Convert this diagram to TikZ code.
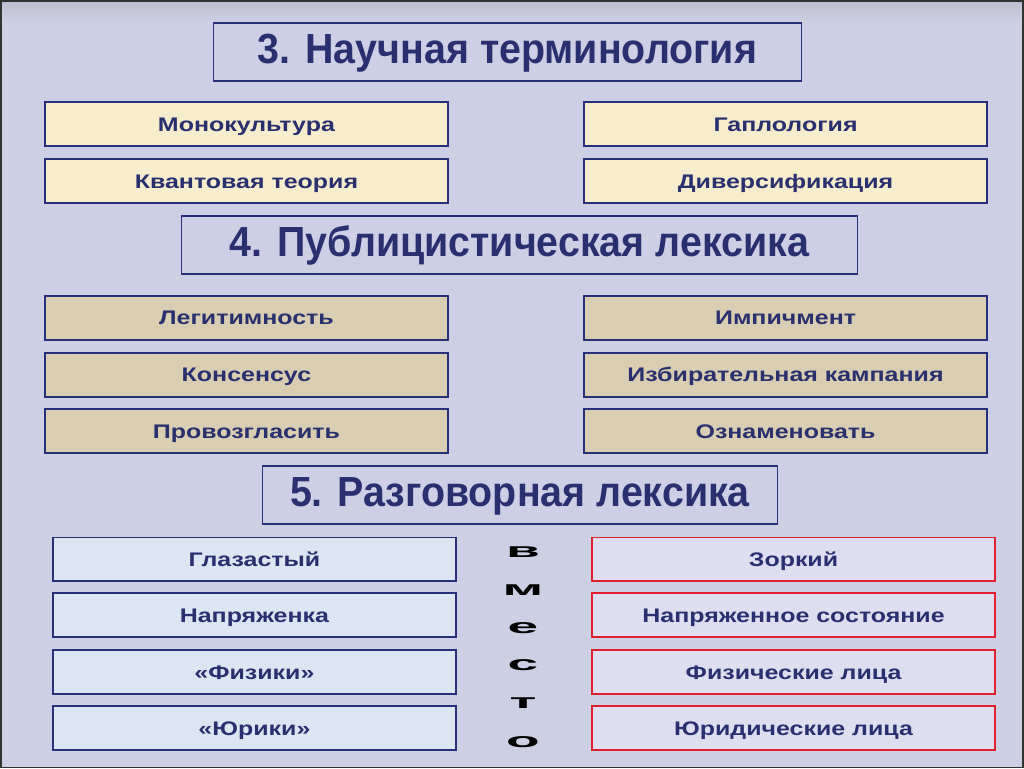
\documentclass[tikz,border=0pt]{standalone}
\usepackage{fontspec}
\usepackage{graphicx}
\setmainfont{Liberation Sans}
\definecolor{navy}{HTML}{2A2F70}
\definecolor{frame}{HTML}{28307A}
\definecolor{redline}{HTML}{E0202E}
\definecolor{back}{HTML}{CDD0E4}
\definecolor{cream}{HTML}{F6EDCD}
\definecolor{tan}{HTML}{D9CEB2}
\definecolor{ice}{HTML}{DCE6F3}
\definecolor{frost}{HTML}{DDDFF1}
\newcommand{\narrowtxt}[1]{\scalebox{0.935}[1]{#1}}
\newcommand{\widetxt}[1]{\scalebox{1.27}[1]{#1}}
\newcommand{\vletter}[1]{\scalebox{2.7}[1]{#1}}
\begin{document}
\begin{tikzpicture}[x=0.025cm,y=-0.025cm,
  title box/.style={draw=frame,line width=1.2pt,minimum height=58\pgfunit,
    inner sep=0pt,text height=21.5pt,text depth=5pt,
    font=\bfseries\fontsize{30}{30}\selectfont,text=navy},
  word box/.style={draw=frame,line width=1.3pt,minimum width=404\pgfunit,
    minimum height=44\pgfunit,inner sep=0pt,text height=10pt,text depth=0pt,
    font=\bfseries\fontsize{14}{14}\selectfont,text=navy},
  sci/.style={word box,fill=cream},
  pub/.style={word box,fill=tan},
  talk/.style={word box,fill=ice},
  right talk/.style={word box,fill=frost,draw=redline},
  letter/.style={font=\bfseries\fontsize{14.5}{14.5}\selectfont,inner sep=0pt}]
  \def\pgfunit{*0.025cm}
  % background
  \fill[back] (0,0) rectangle (1024,768);
  \shade[top color=back!80!gray,bottom color=back] (0,0) rectangle (1024,22);
  \draw[black!80,line width=1.2pt] (0,0) rectangle (1024,768);
  \useasboundingbox (0,0) rectangle (1024,768);

  % 3. scientific terms
  \path (507.5,51) node[title box,minimum width=589\pgfunit] (t3) {\narrowtxt{3. Научная терминология}};
  \path (246,123.5) node[sci] (mono) {\widetxt{Монокультура}}
        (246,180.5) node[sci] (kvant) {\widetxt{Квантовая теория}}
        (786,123.5) node[sci] (gapl) {\widetxt{Гаплология}}
        (786,180.5) node[sci] (divers) {\widetxt{Диверсификация}};

  % 4. publicistic words
  \path (519.5,244.5) node[title box,minimum width=677\pgfunit] (t4) {\narrowtxt{4. Публицистическая лексика}};
  \path (246,317.5) node[pub] (legit) {\widetxt{Легитимность}}
        (246,374.5) node[pub] (kons) {\widetxt{Консенсус}}
        (246,431) node[pub] (provoz) {\widetxt{Провозгласить}}
        (786,317.5) node[pub] (impich) {\widetxt{Импичмент}}
        (786,374.5) node[pub] (izbir) {\widetxt{Избирательная кампания}}
        (786,431) node[pub] (oznam) {\widetxt{Ознаменовать}};

  % 5. colloquial words
  \path (520,495) node[title box,minimum width=516\pgfunit] (t5) {\narrowtxt{5. Разговорная лексика}};
  \path (254,559.5) node[talk] (glaz) {\widetxt{Глазастый}}
        (254,615.5) node[talk] (napr) {\widetxt{Напряженка}}
        (254,672.5) node[talk] (fiz) {\widetxt{«Физики»}}
        (254,728.5) node[talk] (jur) {\widetxt{«Юрики»}}
        (794,559.5) node[right talk] (zork) {\widetxt{Зоркий}}
        (794,615.5) node[right talk] (nsost) {\widetxt{Напряженное состояние}}
        (794,672.5) node[right talk] (fizl) {\widetxt{Физические лица}}
        (794,728.5) node[right talk] (jurl) {\widetxt{Юридические лица}};

  % vertical word
  \path (523,552) node[letter] (v1) {\vletter{в}}
        (523,590) node[letter] (v2) {\vletter{м}}
        (523,628) node[letter] (v3) {\vletter{е}}
        (523,665) node[letter] (v4) {\vletter{с}}
        (523,703) node[letter] (v5) {\vletter{т}}
        (523,742) node[letter] (v6) {\vletter{о}};
\end{tikzpicture}
\end{document}
